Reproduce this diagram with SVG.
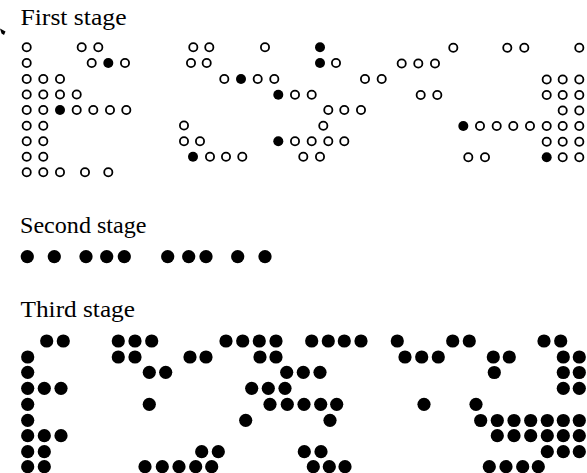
<svg xmlns="http://www.w3.org/2000/svg" width="587" height="473" viewBox="0 0 587 473">
  <style>
    .label { font-family: "Liberation Serif", "DejaVu Serif", serif; font-size: 22.5px; fill: #000; }
    .ring { fill: #fff; stroke: #000; stroke-width: 1.8; }
    .dot { fill: #000; }
  </style>
  <rect width="587" height="473" fill="#fff"/>

  <!-- small margin mark -->
  <path d="M0,28.5 L5.5,31.5 L4,35 L1.5,33.5 Z" fill="#000"/>

  <!-- first stage: open and filled cells -->
  <g id="first-stage">
    <text class="label" x="20.5" y="25" textLength="106" lengthAdjust="spacingAndGlyphs">First stage</text>
    <!-- row 1 -->
    <circle class="ring" cx="26.7" cy="47.3" r="4.1"/><circle class="ring" cx="81.7" cy="47.3" r="4.1"/><circle class="ring" cx="98.3" cy="47.3" r="4.1"/>
    <circle class="ring" cx="193.3" cy="47.3" r="4.1"/><circle class="ring" cx="209.3" cy="47.3" r="4.1"/><circle class="ring" cx="265" cy="47.3" r="4.1"/>
    <circle class="dot" cx="320" cy="47.3" r="5"/><circle class="ring" cx="453.3" cy="47.8" r="4.1"/><circle class="ring" cx="507.3" cy="47.8" r="4.1"/>
    <circle class="ring" cx="524.3" cy="47.8" r="4.1"/><circle class="ring" cx="579.3" cy="47.8" r="4.1"/>
    <!-- row 2 -->
    <circle class="ring" cx="26.7" cy="63" r="4.1"/><circle class="ring" cx="91.7" cy="63" r="4.1"/><circle class="dot" cx="108.3" cy="63" r="5"/>
    <circle class="ring" cx="125" cy="63" r="4.1"/><circle class="ring" cx="191" cy="63" r="4.1"/><circle class="ring" cx="206.7" cy="63" r="4.1"/>
    <circle class="dot" cx="320" cy="63" r="5"/><circle class="ring" cx="336" cy="63" r="4.1"/><circle class="ring" cx="401.7" cy="63.5" r="4.1"/>
    <circle class="ring" cx="418.3" cy="63.5" r="4.1"/><circle class="ring" cx="435" cy="63.5" r="4.1"/>
    <!-- row 3 -->
    <circle class="ring" cx="26.7" cy="79" r="4.1"/><circle class="ring" cx="43.3" cy="79" r="4.1"/><circle class="ring" cx="60" cy="79" r="4.1"/>
    <circle class="ring" cx="224.3" cy="79" r="4.1"/><circle class="dot" cx="241" cy="79" r="5"/><circle class="ring" cx="257.7" cy="79" r="4.1"/>
    <circle class="ring" cx="274.3" cy="79" r="4.1"/><circle class="ring" cx="365" cy="79" r="4.1"/><circle class="ring" cx="381.7" cy="79" r="4.1"/>
    <circle class="ring" cx="546.7" cy="79.5" r="4.1"/><circle class="ring" cx="562.7" cy="79.5" r="4.1"/><circle class="ring" cx="579.3" cy="79.5" r="4.1"/>
    <!-- row 4 -->
    <circle class="ring" cx="26.7" cy="94.5" r="4.1"/><circle class="ring" cx="43.3" cy="94.5" r="4.1"/><circle class="ring" cx="60" cy="94.5" r="4.1"/>
    <circle class="ring" cx="76.7" cy="94.5" r="4.1"/><circle class="dot" cx="278.3" cy="94.8" r="5"/><circle class="ring" cx="295" cy="94.8" r="4.1"/>
    <circle class="ring" cx="311.7" cy="94.8" r="4.1"/><circle class="ring" cx="420.7" cy="95" r="4.1"/><circle class="ring" cx="437.3" cy="95" r="4.1"/>
    <circle class="ring" cx="546.7" cy="95" r="4.1"/><circle class="ring" cx="562.7" cy="95" r="4.1"/><circle class="ring" cx="579.3" cy="95" r="4.1"/>
    <!-- row 5 -->
    <circle class="ring" cx="26.7" cy="110" r="4.1"/><circle class="ring" cx="43.3" cy="110" r="4.1"/><circle class="dot" cx="60" cy="110" r="5"/>
    <circle class="ring" cx="76.7" cy="110" r="4.1"/><circle class="ring" cx="93.3" cy="110" r="4.1"/><circle class="ring" cx="110" cy="110" r="4.1"/>
    <circle class="ring" cx="126.3" cy="110" r="4.1"/><circle class="ring" cx="328.3" cy="110" r="4.1"/><circle class="ring" cx="344.3" cy="110" r="4.1"/>
    <circle class="ring" cx="361" cy="110" r="4.1"/><circle class="ring" cx="562.7" cy="110.5" r="4.1"/><circle class="ring" cx="579.3" cy="110.5" r="4.1"/>
    <!-- row 6 -->
    <circle class="ring" cx="26.7" cy="125.7" r="4.1"/><circle class="ring" cx="43.3" cy="125.7" r="4.1"/><circle class="ring" cx="184" cy="125.5" r="4.1"/>
    <circle class="ring" cx="323.3" cy="125.7" r="4.1"/><circle class="dot" cx="463.3" cy="126" r="5"/><circle class="ring" cx="480" cy="126" r="4.1"/>
    <circle class="ring" cx="496.7" cy="126" r="4.1"/><circle class="ring" cx="513.3" cy="126" r="4.1"/><circle class="ring" cx="530" cy="126" r="4.1"/>
    <circle class="ring" cx="546.7" cy="126" r="4.1"/><circle class="ring" cx="562.7" cy="126" r="4.1"/><circle class="ring" cx="579.3" cy="126" r="4.1"/>
    <!-- row 7 -->
    <circle class="ring" cx="26.7" cy="141.2" r="4.1"/><circle class="ring" cx="43.3" cy="141.2" r="4.1"/><circle class="ring" cx="184" cy="141.2" r="4.1"/>
    <circle class="ring" cx="200" cy="141.2" r="4.1"/><circle class="dot" cx="278.3" cy="141.2" r="5"/><circle class="ring" cx="295" cy="141.2" r="4.1"/>
    <circle class="ring" cx="311.7" cy="141.2" r="4.1"/><circle class="ring" cx="328.3" cy="141.2" r="4.1"/><circle class="ring" cx="344.3" cy="141.2" r="4.1"/>
    <circle class="ring" cx="546.7" cy="141.7" r="4.1"/><circle class="ring" cx="562.7" cy="141.7" r="4.1"/><circle class="ring" cx="579.3" cy="141.7" r="4.1"/>
    <!-- row 8 -->
    <circle class="ring" cx="26.7" cy="156.8" r="4.1"/><circle class="ring" cx="43.3" cy="156.8" r="4.1"/><circle class="dot" cx="193" cy="156.8" r="5"/>
    <circle class="ring" cx="210" cy="156.8" r="4.1"/><circle class="ring" cx="226" cy="156.8" r="4.1"/><circle class="ring" cx="242.3" cy="156.8" r="4.1"/>
    <circle class="ring" cx="303.3" cy="156.8" r="4.1"/><circle class="ring" cx="320" cy="156.8" r="4.1"/><circle class="ring" cx="468.3" cy="157.3" r="4.1"/>
    <circle class="ring" cx="485" cy="157.3" r="4.1"/><circle class="dot" cx="546.7" cy="157.3" r="5"/><circle class="ring" cx="562.7" cy="157.3" r="4.1"/>
    <circle class="ring" cx="579.3" cy="157.3" r="4.1"/>
    <!-- row 9 -->
    <circle class="ring" cx="26.7" cy="172.3" r="4.1"/><circle class="ring" cx="43.3" cy="172.3" r="4.1"/><circle class="ring" cx="60" cy="172.3" r="4.1"/>
    <circle class="ring" cx="85" cy="172.3" r="4.1"/><circle class="ring" cx="108.3" cy="172.3" r="4.1"/>
  </g>

  <!-- second stage: a single row of dots -->
  <g id="second-stage">
    <text class="label" x="20" y="233.3" textLength="126.5" lengthAdjust="spacingAndGlyphs">Second stage</text>
    <circle class="dot" cx="27.3" cy="256.7" r="6.6"/><circle class="dot" cx="54.3" cy="256.7" r="6.6"/>
    <circle class="dot" cx="86" cy="256.7" r="6.6"/><circle class="dot" cx="106.7" cy="256.7" r="6.6"/><circle class="dot" cx="124.3" cy="256.7" r="6.6"/>
    <circle class="dot" cx="167.7" cy="256.7" r="6.6"/><circle class="dot" cx="188.7" cy="256.7" r="6.6"/><circle class="dot" cx="206" cy="256.7" r="6.6"/>
    <circle class="dot" cx="237.7" cy="256.7" r="6.6"/><circle class="dot" cx="265" cy="256.7" r="6.6"/>
  </g>

  <!-- third stage: filled dot field -->
  <g id="third-stage">
    <text class="label" x="20.5" y="317.3" textLength="114.5" lengthAdjust="spacingAndGlyphs">Third stage</text>
    <!-- row 1 -->
    <circle class="dot" cx="46.7" cy="341" r="6.6"/><circle class="dot" cx="63.3" cy="341" r="6.6"/><circle class="dot" cx="118.3" cy="341" r="6.6"/>
    <circle class="dot" cx="135" cy="341" r="6.6"/><circle class="dot" cx="151.7" cy="341" r="6.6"/><circle class="dot" cx="226" cy="341" r="6.6"/>
    <circle class="dot" cx="242.7" cy="341" r="6.6"/><circle class="dot" cx="259.3" cy="341" r="6.6"/><circle class="dot" cx="276" cy="341" r="6.6"/>
    <circle class="dot" cx="311.7" cy="341" r="6.6"/><circle class="dot" cx="328.3" cy="341" r="6.6"/><circle class="dot" cx="344.3" cy="341" r="6.6"/>
    <circle class="dot" cx="361" cy="341" r="6.6"/><circle class="dot" cx="397.3" cy="341" r="6.6"/><circle class="dot" cx="452.7" cy="341" r="6.6"/>
    <circle class="dot" cx="469.3" cy="341" r="6.6"/><circle class="dot" cx="544" cy="341" r="6.6"/><circle class="dot" cx="560.7" cy="341" r="6.6"/>
    <!-- row 2 -->
    <circle class="dot" cx="27.7" cy="357" r="6.6"/><circle class="dot" cx="118.3" cy="357" r="6.6"/><circle class="dot" cx="135" cy="357" r="6.6"/>
    <circle class="dot" cx="190" cy="357" r="6.6"/><circle class="dot" cx="206" cy="357" r="6.6"/><circle class="dot" cx="260" cy="357" r="6.6"/>
    <circle class="dot" cx="276" cy="357" r="6.6"/><circle class="dot" cx="405" cy="357" r="6.6"/><circle class="dot" cx="421.7" cy="357" r="6.6"/>
    <circle class="dot" cx="438.3" cy="357" r="6.6"/><circle class="dot" cx="493.3" cy="357" r="6.6"/><circle class="dot" cx="509.3" cy="357" r="6.6"/>
    <circle class="dot" cx="563.3" cy="357" r="6.6"/><circle class="dot" cx="579.3" cy="357" r="6.6"/>
    <!-- row 3 -->
    <circle class="dot" cx="27.7" cy="372.3" r="6.6"/><circle class="dot" cx="149.3" cy="372.3" r="6.6"/><circle class="dot" cx="165.7" cy="372.3" r="6.6"/>
    <circle class="dot" cx="286.7" cy="372.3" r="6.6"/><circle class="dot" cx="303.3" cy="372.3" r="6.6"/><circle class="dot" cx="320" cy="372.3" r="6.6"/>
    <circle class="dot" cx="494.3" cy="372.5" r="6.6"/><circle class="dot" cx="563.3" cy="372.5" r="6.6"/><circle class="dot" cx="579.3" cy="372.5" r="6.6"/>
    <!-- row 4 -->
    <circle class="dot" cx="27.7" cy="388.3" r="6.6"/><circle class="dot" cx="44.3" cy="388.3" r="6.6"/><circle class="dot" cx="61" cy="388.3" r="6.6"/>
    <circle class="dot" cx="251.7" cy="388.3" r="6.6"/><circle class="dot" cx="268.3" cy="388.3" r="6.6"/><circle class="dot" cx="285" cy="388.3" r="6.6"/>
    <circle class="dot" cx="563.3" cy="388.3" r="6.6"/><circle class="dot" cx="579.3" cy="388.3" r="6.6"/>
    <!-- row 5 -->
    <circle class="dot" cx="27.7" cy="404.3" r="6.6"/><circle class="dot" cx="149.3" cy="404.3" r="6.6"/><circle class="dot" cx="270" cy="404.3" r="6.6"/>
    <circle class="dot" cx="287.3" cy="404.3" r="6.6"/><circle class="dot" cx="304" cy="404.3" r="6.6"/><circle class="dot" cx="320.7" cy="404.3" r="6.6"/>
    <circle class="dot" cx="336.7" cy="404.3" r="6.6"/><circle class="dot" cx="424" cy="404.3" r="6.6"/><circle class="dot" cx="476" cy="404.3" r="6.6"/>
    <!-- row 6 -->
    <circle class="dot" cx="27.7" cy="420.3" r="6.6"/><circle class="dot" cx="245.7" cy="420.3" r="6.6"/><circle class="dot" cx="330" cy="420.3" r="6.6"/>
    <circle class="dot" cx="480.7" cy="420.5" r="6.6"/><circle class="dot" cx="497.3" cy="420.5" r="6.6"/><circle class="dot" cx="514" cy="420.5" r="6.6"/>
    <circle class="dot" cx="530.7" cy="420.5" r="6.6"/><circle class="dot" cx="547.3" cy="420.5" r="6.6"/><circle class="dot" cx="563.3" cy="420.5" r="6.6"/>
    <circle class="dot" cx="579.3" cy="420.5" r="6.6"/>
    <!-- row 7 -->
    <circle class="dot" cx="27.7" cy="435.7" r="6.6"/><circle class="dot" cx="44.3" cy="435.7" r="6.6"/><circle class="dot" cx="61" cy="435.7" r="6.6"/>
    <circle class="dot" cx="497.3" cy="435.7" r="6.6"/><circle class="dot" cx="514" cy="435.7" r="6.6"/><circle class="dot" cx="530.7" cy="435.7" r="6.6"/>
    <circle class="dot" cx="547.3" cy="435.7" r="6.6"/><circle class="dot" cx="563.3" cy="435.7" r="6.6"/><circle class="dot" cx="579.3" cy="435.7" r="6.6"/>
    <!-- row 8 -->
    <circle class="dot" cx="27.7" cy="451.7" r="6.6"/><circle class="dot" cx="44.3" cy="451.7" r="6.6"/><circle class="dot" cx="201.7" cy="451.7" r="6.6"/>
    <circle class="dot" cx="218.3" cy="451.7" r="6.6"/><circle class="dot" cx="304.3" cy="451.7" r="6.6"/><circle class="dot" cx="321" cy="451.7" r="6.6"/>
    <circle class="dot" cx="547.3" cy="451.7" r="6.6"/><circle class="dot" cx="563.3" cy="451.7" r="6.6"/><circle class="dot" cx="579.3" cy="451.7" r="6.6"/>
    <!-- row 9 -->
    <circle class="dot" cx="27.7" cy="466.7" r="6.6"/><circle class="dot" cx="44.3" cy="466.7" r="6.6"/><circle class="dot" cx="145" cy="466.7" r="6.6"/>
    <circle class="dot" cx="162.3" cy="466.7" r="6.6"/><circle class="dot" cx="179" cy="466.7" r="6.6"/><circle class="dot" cx="195.7" cy="466.7" r="6.6"/>
    <circle class="dot" cx="211.7" cy="466.7" r="6.6"/><circle class="dot" cx="313.3" cy="466.7" r="6.6"/><circle class="dot" cx="329.3" cy="466.7" r="6.6"/>
    <circle class="dot" cx="345" cy="466.7" r="6.6"/><circle class="dot" cx="489.3" cy="466.7" r="6.6"/><circle class="dot" cx="506" cy="466.7" r="6.6"/>
    <circle class="dot" cx="522.7" cy="466.7" r="6.6"/><circle class="dot" cx="538.3" cy="466.7" r="6.6"/>
  </g>
</svg>
